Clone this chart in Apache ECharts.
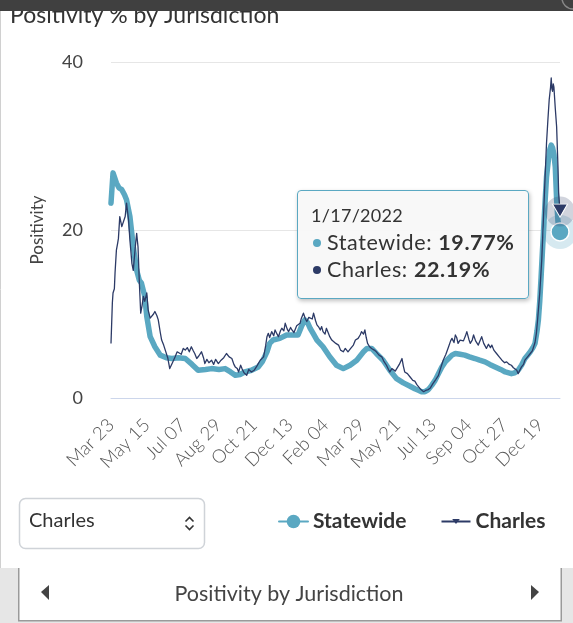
<!DOCTYPE html>
<html><head><meta charset="utf-8">
<script src="https://cdn.jsdelivr.net/npm/echarts@6/dist/echarts.min.js"></script>
<style>html,body{margin:0;padding:0;background:#fff}#c{width:573px;height:623px}</style>
</head><body><div id="c"></div>
<script>
// ---- data ----
const startDate = [2020, 3, 23];            // day 0 = Mar 23, 2020
const xTickStep = 53;                       // days between axis labels
const xTickLabels = ['Mar 23','May 15','Jul 07','Aug 29','Oct 21','Dec 13','Feb 04','Mar 29','May 21','Jul 13','Sep 04','Oct 27','Dec 19'];
const yTicks = [0, 20, 40];
const seriesNames = ['Statewide', 'Charles'];
const selectedJurisdiction = 'Charles';
const chartTitle = 'Positivity % by Jurisdiction';
const yAxisTitle = 'Positivity';
const pagerTitle = 'Positivity by Jurisdiction';

const statewideDays = [0,3,5,8,12,16,20,23,28,33,38,42,45,50,53,58,65,73,82,90,100,110,120,129,140,149,160,169,177,184,191,198,208,218,224,231,235,240,250,260,270,277,282,287,291,295,300,305,314,324,334,344,354,364,374,379,386,393,403,413,423,433,443,450,456,460,465,470,475,480,485,490,495,500,505,510,517,524,531,539,546,554,561,569,577,584,593,598,603,608,613,617,621,625,628,631,633,635,637,639,641,643,645,648,650,652,654,656,658,660,662,663,665];
const statewideValues = [23.2,26.8,26.9,25.6,25.0,24.8,24.2,23.6,21.6,18.0,15.2,14.0,13.7,12.1,9.7,7.3,6.1,5.1,4.8,4.7,4.8,4.7,4.0,3.3,3.4,3.5,3.4,3.5,3.1,2.7,2.8,3.1,3.3,3.7,4.3,5.5,6.5,6.9,7.1,7.5,7.5,7.5,8.5,9.3,9.0,8.3,7.6,6.9,6.1,4.9,3.9,3.5,3.9,4.5,5.5,5.9,5.9,5.3,4.5,3.3,2.3,1.8,1.4,1.1,0.9,0.75,0.75,1.0,1.5,2.1,2.9,3.7,4.3,4.7,5.1,5.3,5.2,5.1,4.9,4.7,4.5,4.3,4.0,3.7,3.4,3.1,2.9,3.0,3.3,3.9,4.7,5.1,5.5,6.0,6.5,8.0,9.3,11.5,14.4,17.5,20.4,23.5,26.3,28.5,29.6,30.1,29.8,29.0,27.5,23.6,21.0,20.2,19.77];

const charlesDays = [0,2,3,5,6,8,10,11,13,16,18,21,23,26,28,31,33,36,38,40,42,44,46,48,50,53,55,58,60,63,65,68,70,73,75,78,80,84,87,91,95,98,100,104,107,110,113,116,119,122,124,127,130,134,137,139,142,145,149,152,155,159,163,167,171,175,179,182,184,187,189,192,194,197,201,204,208,212,216,221,226,229,231,233,235,238,241,243,246,248,251,253,256,258,261,263,266,268,271,273,275,277,280,282,285,288,290,293,295,298,300,303,305,308,310,312,314,317,319,322,324,327,329,333,337,340,344,347,351,355,359,362,366,369,371,374,376,378,380,383,386,390,393,397,401,404,408,411,413,416,418,421,423,427,431,433,435,439,443,447,450,453,455,459,463,466,470,473,477,481,485,488,492,496,500,503,505,508,510,512,514,517,519,522,525,527,530,532,535,537,540,542,544,547,549,552,554,556,559,562,564,567,571,575,579,583,586,590,593,596,598,601,603,606,608,611,613,617,621,624,626,628,630,632,635,638,640,642,645,647,649,651,652,653,654,655,656,658,660,662,663,665];
const charlesValues = [6.5,11.3,12.5,13.0,14.9,17.6,18.5,19.0,21.6,20.4,20.6,21.6,23.2,21.2,18.8,16.0,15.2,18.0,19.6,18.0,13.7,10.1,11.0,12.1,11.5,12.5,10.5,9.5,9.3,10.0,10.3,9.8,9.3,7.8,6.9,6.3,6.1,4.8,3.5,4.2,4.9,5.5,5.7,5.2,5.9,5.7,6.0,5.5,6.1,5.6,5.3,4.7,5.0,5.5,4.8,4.1,4.6,4.2,4.5,4.0,4.6,4.1,4.5,4.8,5.3,4.9,4.7,4.0,3.7,3.5,3.1,3.9,3.5,3.0,2.7,3.4,3.1,3.3,3.8,4.5,4.9,6.2,7.3,7.7,7.2,7.9,7.4,8.1,7.6,7.3,8.0,8.3,8.0,8.9,8.2,7.9,8.4,8.1,7.8,7.9,8.6,8.5,8.9,9.5,10.1,9.4,9.1,9.6,9.7,9.4,10.1,9.2,8.7,8.4,8.1,8.5,7.9,7.6,8.3,7.7,7.3,6.9,6.7,6.5,6.3,5.7,5.5,5.9,5.5,5.9,6.3,6.9,7.1,7.5,7.9,7.6,8.1,7.2,6.5,6.1,5.9,5.7,5.5,5.1,4.9,4.4,3.9,3.4,3.1,3.5,3.7,3.2,3.3,4.0,4.7,3.8,3.1,2.9,2.5,2.1,2.0,1.6,1.5,1.0,0.75,0.9,1.0,1.2,1.75,2.2,2.7,3.5,4.5,5.2,6.1,6.8,7.1,6.6,7.5,7.2,6.5,6.9,7.1,6.8,7.4,7.9,7.0,6.5,6.9,7.5,6.8,6.6,6.3,6.9,7.3,6.5,6.2,5.9,6.4,6.0,6.3,5.7,5.3,4.9,4.5,4.2,4.3,4.0,3.9,3.6,3.7,3.3,2.9,3.4,3.7,4.0,4.5,4.9,5.3,5.6,6.1,6.6,7.7,9.5,12.5,16.5,20.4,24.5,30.3,33.0,35.5,37.0,38.1,36.8,36.5,37.4,37.0,34.5,32.3,27.5,24.4,22.19];

// ---- build ----
const colors = ['#5aa8c2', '#2c3a66'];
const FONT = 'Lato';
const zip = (a, b) => a.map((d, i) => [d, b[i]]);
const swData = zip(statewideDays, statewideValues);
const chData = zip(charlesDays, charlesValues);
const lastDay = statewideDays[statewideDays.length - 1];
const swLast = swData[swData.length - 1];
const chLast = chData[chData.length - 1];

function dayToDate(d) {
  return new Date(Date.UTC(startDate[0], startDate[1] - 1, startDate[2]) + d * 86400000);
}
function fmtFull(d) {
  const dt = dayToDate(d);
  return (dt.getUTCMonth() + 1) + '/' + dt.getUTCDate() + '/' + dt.getUTCFullYear();
}

const chart = echarts.init(document.getElementById('c'), null, {renderer: 'canvas'});
const triPath = 'path://M0,0 M16,16 M3.5,5 L12.5,5 L8,11 Z';

chart.setOption({
  animation: false,
  textStyle: {fontFamily: FONT},
  grid: {left: 111, right: 13, top: 62, bottom: 225},
  legend: {
    data: seriesNames,
    left: 273, top: 506,
    itemWidth: 29, itemHeight: 17, itemGap: 34,
    textStyle: {fontFamily: FONT, fontSize: 21, fontWeight: 'bold', color: '#333'},
    selectedMode: false
  },
  tooltip: {
    trigger: 'axis',
    triggerOn: 'none',
    alwaysShowContent: true,
    transitionDuration: 0,
    axisPointer: {type: 'none', triggerEmphasis: false},
    position: [297, 190],
    backgroundColor: 'rgba(248,248,248,0.96)',
    borderColor: colors[0],
    borderWidth: 1.5,
    borderRadius: 4,
    padding: [11, 14, 15, 13],
    extraCssText: 'box-shadow:1px 2px 4px rgba(0,0,0,0.25);',
    textStyle: {fontFamily: FONT, fontSize: 18, color: '#333'},
    formatter: function (params) {
      let s = '<div style="line-height:27px;font-family:Lato;font-size:18px;letter-spacing:0.3px;color:#333">' + fmtFull(params[0].value[0]) + '</div>';
      params.forEach(function (p) {
        s += '<div style="line-height:27px;font-family:Lato;font-size:21.5px;letter-spacing:0.6px;color:#333">' +
          '<span style="display:inline-block;width:8px;height:8px;border-radius:50%;background:' + p.color + ';margin:0 6px 0 2px;vertical-align:middle;position:relative;top:-2px"></span>' +
          p.seriesName + ': <b>' + p.value[1].toFixed(2) + '%</b></div>';
      });
      return s;
    }
  },
  xAxis: {
    type: 'value', min: 0, max: lastDay, interval: xTickStep,
    axisLine: {show: true, lineStyle: {color: '#ccd6eb', width: 1}},
    axisTick: {show: false},
    splitLine: {show: false},
    axisLabel: {
      rotate: 45, margin: 24, fontSize: 18.5, fontWeight: 300, color: '#555', fontFamily: FONT,
      showMaxLabel: false,
      formatter: function (v) { return v % xTickStep === 0 ? (xTickLabels[v / xTickStep] || '') : ''; }
    }
  },
  yAxis: {
    type: 'value', min: yTicks[0], max: yTicks[yTicks.length - 1], interval: yTicks[1] - yTicks[0],
    name: yAxisTitle, nameLocation: 'middle', nameGap: 65, nameRotate: 90,
    nameTextStyle: {fontFamily: FONT, fontSize: 17, color: '#444'},
    axisLine: {show: false}, axisTick: {show: false},
    axisLabel: {fontSize: 18, color: '#444', margin: 28, fontFamily: FONT},
    splitLine: {lineStyle: {color: '#e6e6e6', width: 1}}
  },
  series: [
    {
      name: seriesNames[0], type: 'line', data: swData,
      color: colors[0], symbol: 'circle', showSymbol: false, symbolSize: 4,
      lineStyle: {width: 5.5, color: colors[0], join: 'round', cap: 'round'},
      itemStyle: {color: colors[0]},
      emphasis: {disabled: true},
      markPoint: {
        silent: true, label: {show: false},
        data: [
          {coord: swLast, symbol: 'circle', symbolSize: 34, itemStyle: {color: 'rgba(90,168,194,0.25)'}},
          {coord: swLast, symbol: 'circle', symbolSize: 18, itemStyle: {color: colors[0], borderColor: '#fff', borderWidth: 1.5}}
        ]
      }
    },
    {
      name: seriesNames[1], type: 'line', data: chData,
      color: colors[1], symbol: triPath, showSymbol: false, symbolSize: 4,
      lineStyle: {width: 1.3, color: colors[1], join: 'round'},
      itemStyle: {color: colors[1]},
      emphasis: {disabled: true},
      markPoint: {
        silent: true, label: {show: false},
        data: [
          {coord: chLast, symbol: 'circle', symbolSize: 30, itemStyle: {color: 'rgba(44,58,102,0.22)'}},
          {coord: chLast, symbol: 'triangle', symbolRotate: 180, symbolSize: [15, 13], symbolOffset: [0, -1], itemStyle: {color: colors[1], borderColor: '#fff', borderWidth: 1}}
        ]
      }
    }
  ],
  graphic: [
    // title (partly hidden under the top bar)
    {type: 'text', left: 10, top: 4, z: 10, style: {text: chartTitle, fontFamily: FONT, fontSize: 23, fill: '#333'}},
    {type: 'rect', shape: {x: 0, y: 0, width: 573, height: 11}, z: 20, style: {fill: '#404040'}},
    {type: 'circle', shape: {cx: 573, cy: -2, r: 11}, z: 21, style: {fill: 'none', stroke: '#888', lineWidth: 1.5}},
    // left panel border
    {type: 'line', shape: {x1: 0.5, y1: 11, x2: 0.5, y2: 568}, z: 5, style: {stroke: '#d0d0d0', lineWidth: 1}},
    // dropdown
    {type: 'rect', shape: {x: 19.5, y: 498.5, width: 185, height: 50, r: 6}, z: 5, style: {fill: '#fff', stroke: '#cfd3d8', lineWidth: 1.5}},
    {type: 'text', left: 29, top: 511, z: 6, style: {text: selectedJurisdiction, fontFamily: FONT, fontSize: 20, fill: '#333'}},
    {type: 'polyline', shape: {points: [[185.5, 521.5], [189.5, 517.5], [193.5, 521.5]]}, z: 6, style: {stroke: '#333', lineWidth: 1.6, fill: 'none'}},
    {type: 'polyline', shape: {points: [[185.5, 525.5], [189.5, 529.5], [193.5, 525.5]]}, z: 6, style: {stroke: '#333', lineWidth: 1.6, fill: 'none'}},
    // bottom pager
    {type: 'rect', shape: {x: 0, y: 568, width: 573, height: 55}, z: 1, style: {fill: '#e6e6e6'}},
    {type: 'rect', shape: {x: 18.5, y: 567, width: 543, height: 54}, z: 2, style: {fill: '#fff'}},
    {type: 'polyline', shape: {points: [[18.75, 568], [18.75, 620.75], [561.25, 620.75], [561.25, 568]]}, z: 3, style: {stroke: '#9a9a9a', lineWidth: 1.5, fill: 'none'}},
    {type: 'text', x: 289, y: 594, z: 4, style: {text: pagerTitle, fontFamily: FONT, fontSize: 21.5, fill: '#444', align: 'center', verticalAlign: 'middle'}},
    {type: 'polygon', shape: {points: [[41, 592], [49, 585], [49, 600]]}, z: 4, style: {fill: '#444'}},
    {type: 'polygon', shape: {points: [[539, 592], [531, 585], [531, 600]]}, z: 4, style: {fill: '#444'}}
  ]
});

chart.dispatchAction({type: 'showTip', seriesIndex: 0, dataIndex: swData.length - 1});
</script>
</body></html>
